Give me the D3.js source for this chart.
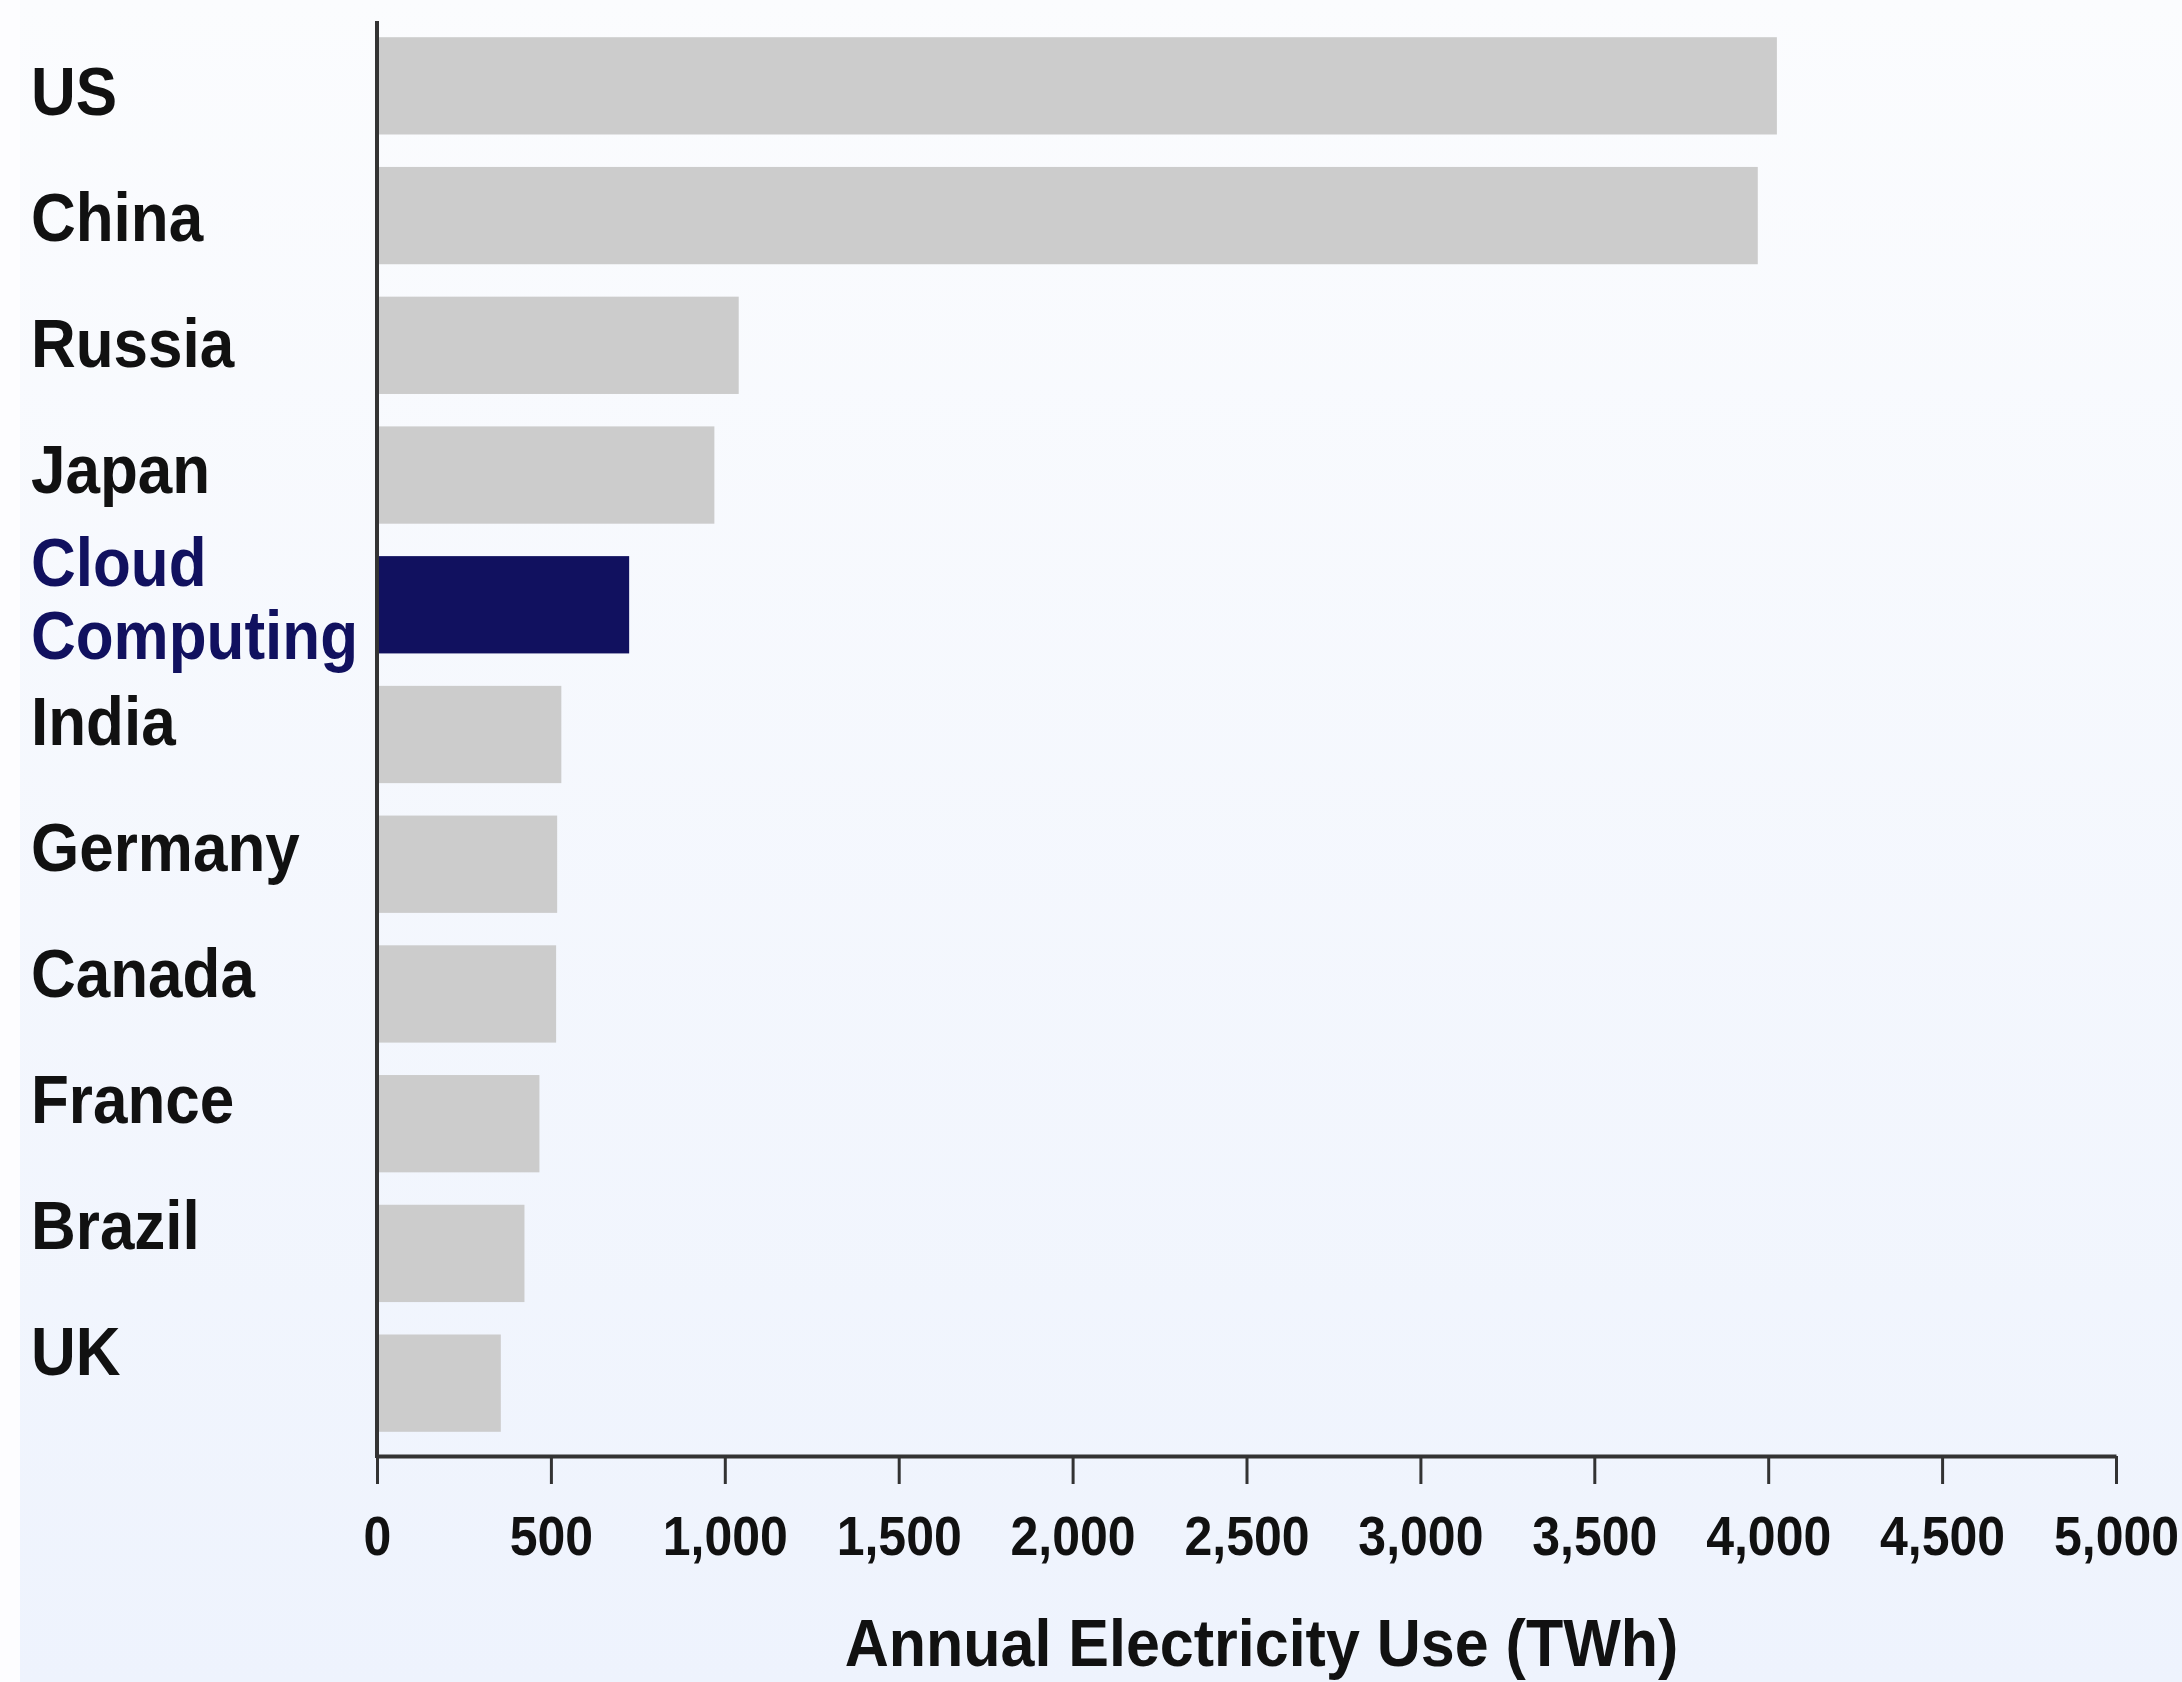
<!DOCTYPE html>
<html>
<head>
<meta charset="utf-8">
<script src="https://cdn.jsdelivr.net/npm/d3@7"></script>
<style>
  html, body { margin: 0; padding: 0; background: #f5f8fe; }
  svg { display: block; }
  text { font-family: "Liberation Sans", Arial, sans-serif; font-weight: bold; }
</style>
</head>
<body>
<script>
// ---- data ----
const categories = ["US", "China", "Russia", "Japan", "Cloud Computing", "India", "Germany", "Canada", "France", "Brazil", "UK"];
const values = [4025, 3970, 1040, 970, 725, 530, 518, 515, 467, 424, 356];
const highlight = "Cloud Computing";
const xTicks = [0, 500, 1000, 1500, 2000, 2500, 3000, 3500, 4000, 4500, 5000];
const xTitle = "Annual Electricity Use (TWh)";

(function () {
// ---- layout ----
const W = 2182, H = 1682;
const mLeft = 377, mRight = 2116, mTop = 21, bandBottom = 1448, axisY = 1456;
const navy = "#11115f", gray = "#cccccc", ink = "#111111", axisColor = "#333333";
const stretch = 1.1;

const svg = d3.select("body").append("svg").attr("width", W).attr("height", H);

const defs = svg.append("defs");
const grad = defs.append("linearGradient").attr("id", "bg").attr("x1", 0).attr("y1", 0).attr("x2", 0).attr("y2", 1);
grad.append("stop").attr("offset", "0%").attr("stop-color", "#fbfcfe");
grad.append("stop").attr("offset", "100%").attr("stop-color", "#eef3fd");
svg.append("rect").attr("width", W).attr("height", H).attr("fill", "url(#bg)");
svg.append("rect").attr("width", 20).attr("height", H).attr("fill", "#fdfdff");

const x = d3.scaleLinear().domain([0, 5000]).range([mLeft, mRight]);
const y = d3.scaleBand().domain(categories).range([mTop, bandBottom]).paddingInner(0.25).paddingOuter(0.125);
const yLab = d3.scalePoint().domain(categories).range([115, 1375]);

// bars
svg.append("g").selectAll("rect")
  .data(categories.map((c, i) => ({ c, v: values[i] })))
  .join("rect")
  .attr("x", x(0))
  .attr("y", d => y(d.c))
  .attr("width", d => x(d.v) - x(0))
  .attr("height", y.bandwidth())
  .attr("fill", d => d.c === highlight ? navy : gray);

// category labels
const labG = svg.append("g");
categories.forEach(d => {
  const lines = d === highlight ? d.split(" ") : [d];
  const base = d === highlight ? yLab(d) - 33 : yLab(d);
  lines.forEach((p, i) => {
    labG.append("text")
      .attr("transform", `translate(31,${base + i * 73}) scale(1,${stretch})`)
      .attr("font-size", 62)
      .attr("fill", d === highlight ? navy : ink)
      .text(p);
  });
});

// x axis
const xAxis = d3.axisBottom(x).tickValues(xTicks).tickFormat(d3.format(",")).tickSize(28).tickSizeOuter(0);
const gx = svg.append("g").attr("transform", `translate(0,${axisY})`).call(xAxis);
gx.select(".domain").attr("stroke", axisColor).attr("stroke-width", 4);
gx.selectAll(".tick line").attr("stroke", axisColor).attr("stroke-width", 3);
gx.selectAll(".tick text").attr("fill", ink).attr("font-size", 50)
  .attr("font-family", "Liberation Sans, Arial, sans-serif").attr("font-weight", "bold")
  .attr("y", 0).attr("dy", 0)
  .attr("transform", `translate(0,${1555 - axisY}) scale(1,${stretch})`);

// y axis line
svg.append("line")
  .attr("x1", x(0)).attr("x2", x(0))
  .attr("y1", mTop).attr("y2", axisY + 2)
  .attr("stroke", axisColor).attr("stroke-width", 4);

// axis title
svg.append("text")
  .attr("transform", `translate(${(mLeft + mRight) / 2 + 15},1666) scale(1,${stretch})`)
  .attr("text-anchor", "middle")
  .attr("font-size", 61)
  .attr("fill", ink)
  .text(xTitle);
})();
</script>
</body>
</html>
